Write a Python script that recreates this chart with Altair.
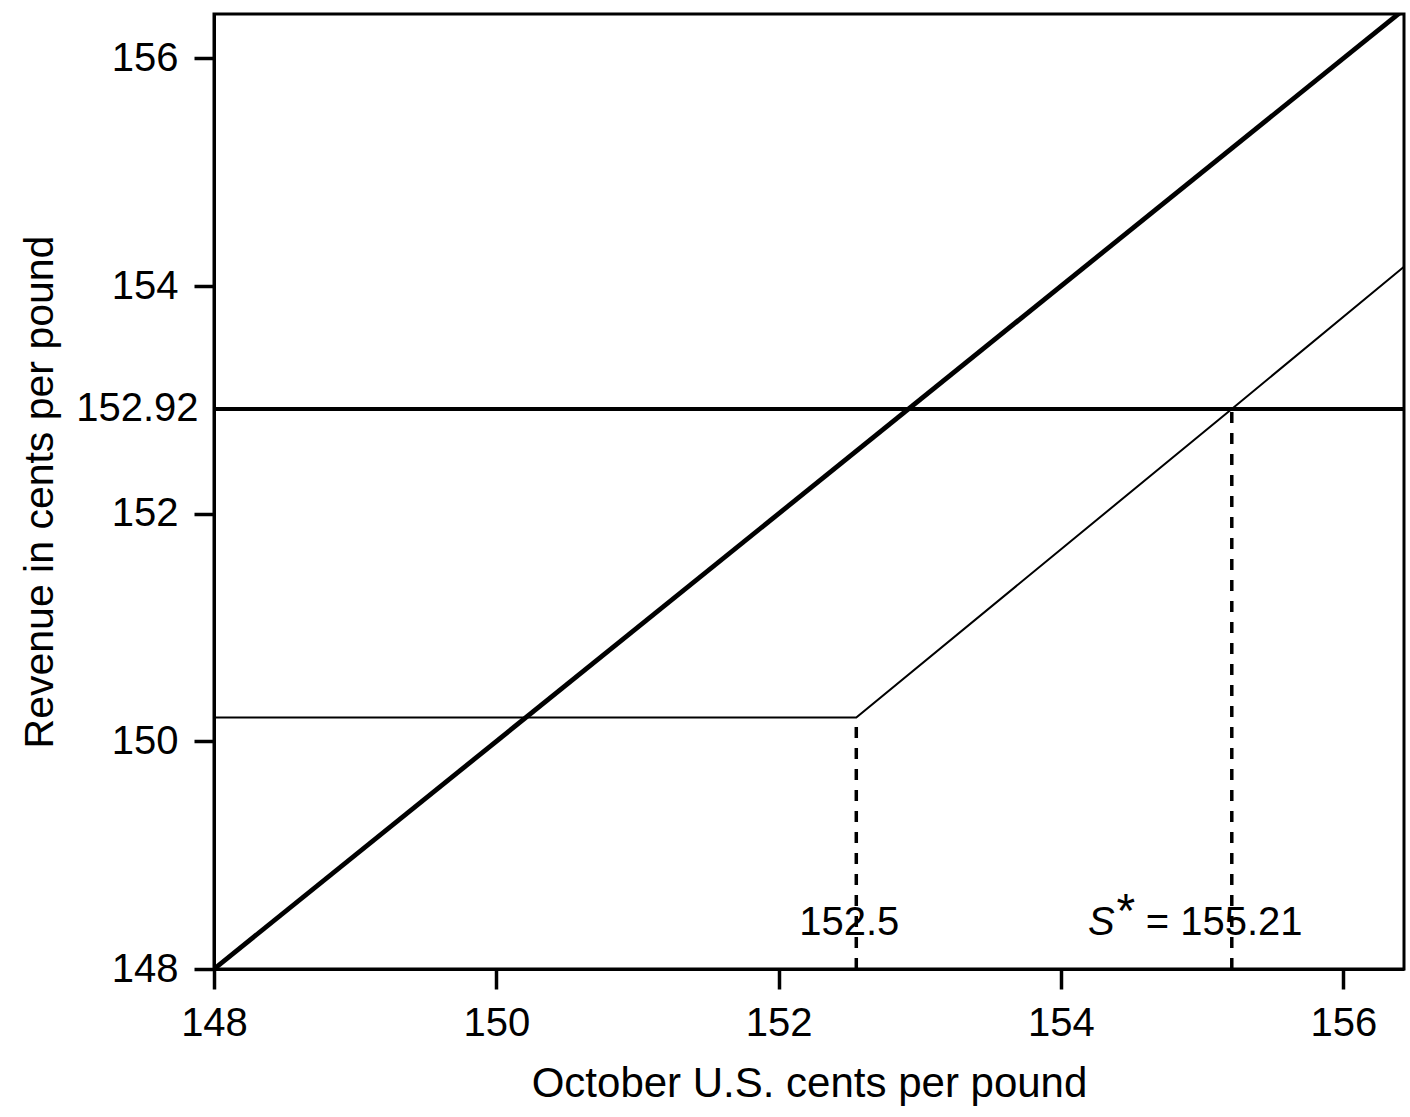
import altair as alt
import pandas as pd

# ---- data ----
x_ticks = [148, 150, 152, 154, 156]
y_ticks = [148, 150, 152, 152.92, 154, 156]
x_domain = [148, 156.43]
y_domain = [148, 156.39]

# 45-degree line (revenue unhedged)
diag_x = [148, 156.43]
diag_y = [148, 156.43]

# kinked line (revenue with option)
kink_x = [148, 152.55, 155.21, 156.43]
kink_y = [150.21, 150.21, 152.92, 154.17]

# horizontal level
level_y = [152.92]

# dashed drop lines
drop_x = [152.55, 155.21]
drop_top = [150.21, 152.92]
drop_bottom = [148, 148]

# annotations
ann_text = ["152.5", "= 155.21"]
ann_x = [152.5, 154.6]
ann_y = [148.3, 148.3]
ann_align = ["center", "left"]

FONT = "Liberation Sans"

diag_df = pd.DataFrame({"x": diag_x, "y": diag_y})
kink_df = pd.DataFrame({"x": kink_x, "y": kink_y})
level_df = pd.DataFrame({"y": level_y})
drop_df = pd.DataFrame({"x": drop_x, "y": drop_bottom, "y2": drop_top})
ann_df = pd.DataFrame({"t": ann_text, "x": ann_x, "y": ann_y, "a": ann_align})
s_df = pd.DataFrame({"t": ["S"], "x": [154.38], "y": [148.3]})
star_df = pd.DataFrame({"t": ["*"], "x": [154.46], "y": [148.37]})

xs = alt.Scale(domain=x_domain, nice=False, zero=False)
ys = alt.Scale(domain=y_domain, nice=False, zero=False)

x_axis = alt.Axis(
    values=x_ticks, format="~f", title="October U.S. cents per pound",
    grid=False, tickSize=20, tickWidth=3.5, domainWidth=3, domainColor="black",
    tickColor="black", labelFontSize=40, labelFont=FONT, labelColor="black",
    labelPadding=14, labelFlush=False, labelOverlap=False,
    titleFontSize=42, titleFont=FONT, titleFontWeight="normal",
    titleColor="black", titleBaseline="alphabetic", titleY=127,
)
y_axis = alt.Axis(
    values=y_ticks, format=".2~f", title="Revenue in cents per pound",
    grid=False, tickSize=20, tickWidth=3.5, domainWidth=3, domainColor="black",
    tickColor={"condition": {"test": "datum.value == 152.92", "value": "transparent"}, "value": "black"},
    labelFontSize=40, labelFont=FONT, labelColor="black",
    labelPadding={"condition": {"test": "datum.value == 152.92", "value": -4}, "value": 16},
    labelFlush=False, labelOverlap=False,
    titleFontSize=41, titleFont=FONT, titleFontWeight="normal",
    titleColor="black", titleBaseline="alphabetic", titleX=-162,
)

diag = alt.Chart(diag_df).mark_line(color="black", strokeWidth=4.8, clip=True).encode(
    x=alt.X("x:Q", scale=xs, axis=x_axis),
    y=alt.Y("y:Q", scale=ys, axis=y_axis),
)
kink = alt.Chart(kink_df).mark_line(color="black", strokeWidth=2, clip=True).encode(
    x=alt.X("x:Q", scale=xs), y=alt.Y("y:Q", scale=ys)
)
level = alt.Chart(level_df).mark_rule(color="black", strokeWidth=4).encode(
    y=alt.Y("y:Q", scale=ys)
)
drops = alt.Chart(drop_df).mark_rule(color="black", strokeWidth=3.5, strokeDash=[11, 10]).encode(
    x=alt.X("x:Q", scale=xs), y=alt.Y("y:Q", scale=ys), y2="y2:Q"
)
ann_center = alt.Chart(ann_df[ann_df.a == "center"]).mark_text(
    font=FONT, fontSize=40, color="black", align="center", baseline="alphabetic"
).encode(x=alt.X("x:Q", scale=xs), y=alt.Y("y:Q", scale=ys), text="t:N")
ann_left = alt.Chart(ann_df[ann_df.a == "left"]).mark_text(
    font=FONT, fontSize=40, color="black", align="left", baseline="alphabetic"
).encode(x=alt.X("x:Q", scale=xs), y=alt.Y("y:Q", scale=ys), text="t:N")
s_txt = alt.Chart(s_df).mark_text(
    font=FONT, fontSize=40, fontStyle="italic", color="black", align="right", baseline="alphabetic"
).encode(x=alt.X("x:Q", scale=xs), y=alt.Y("y:Q", scale=ys), text="t:N")
star_txt = alt.Chart(star_df).mark_text(
    font=FONT, fontSize=48, color="black", align="center", baseline="alphabetic"
).encode(x=alt.X("x:Q", scale=xs), y=alt.Y("y:Q", scale=ys), text="t:N")

chart = alt.layer(diag, kink, level, drops, ann_center, ann_left, s_txt, star_txt).properties(
    width=1190, height=955,
    autosize=alt.AutoSizeParams(type="none"),
    padding={"left": 214, "top": 14, "right": 6, "bottom": 148},
    background="white",
).configure_view(stroke="black", strokeWidth=3)

chart.save("out.html", embed_options={"renderer": "svg", "actions": False})
